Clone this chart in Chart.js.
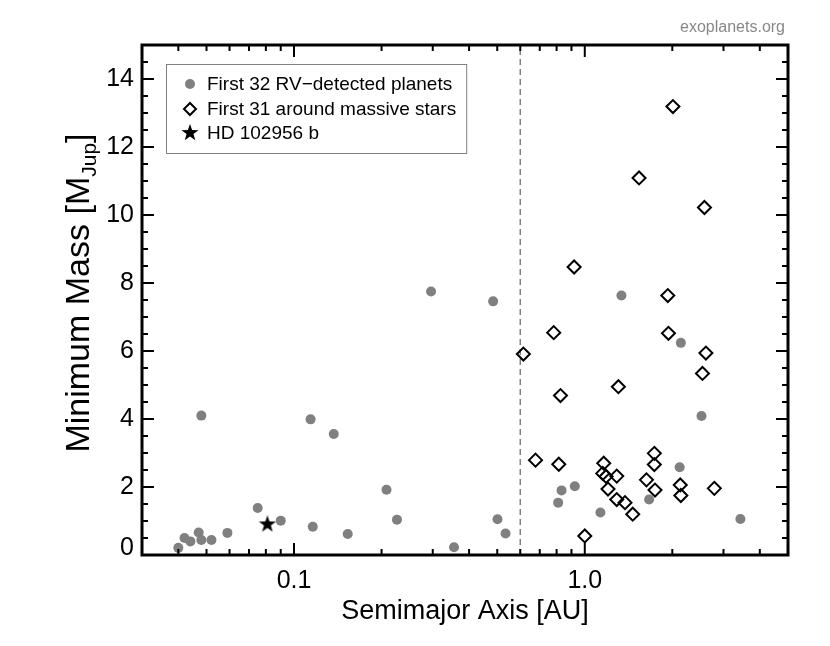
<!DOCTYPE html>
<html>
<head>
<meta charset="utf-8">
<script src="https://cdn.jsdelivr.net/npm/chart.js@4.4.0/dist/chart.umd.min.js"></script>
<style>
  html, body { margin: 0; padding: 0; background: #fff; }
  canvas { display: block; }
</style>
</head>
<body>
<canvas id="chart" width="830" height="646"></canvas>
<script>
// semimajor axis [AU] / minimum mass [M_Jup]
const rvAxis = [0.040, 0.042, 0.044, 0.047, 0.048, 0.048, 0.052, 0.059, 0.075, 0.090,
                0.114, 0.116, 0.137, 0.153, 0.208, 0.226, 0.296, 0.355, 0.484, 0.501,
                0.534, 0.832, 0.810, 0.924, 1.132, 1.664, 2.12, 2.14, 2.52, 3.43, 1.337];
const rvMass = [0.21, 0.50, 0.40, 0.66, 0.44, 4.10, 0.44, 0.65, 1.38, 1.01,
                3.99, 0.83, 3.56, 0.62, 1.92, 1.04, 7.75, 0.23, 7.46, 1.05,
                0.63, 1.90, 1.54, 2.02, 1.25, 1.63, 2.58, 6.24, 4.09, 1.06, 7.63];

const massiveAxis = [0.919, 0.782, 0.615, 0.825, 0.677, 0.814, 1.00, 2.01, 1.537, 2.58,
                     1.93, 1.94, 2.61, 2.54, 1.305, 1.735, 1.735, 1.162, 1.153, 1.184,
                     1.288, 1.63, 2.13, 2.14, 2.79, 1.202, 1.744, 1.288, 1.375, 1.462];
const massiveMass = [8.47, 6.54, 5.91, 4.69, 2.79, 2.67, 0.56, 13.19, 11.09, 10.22,
                     7.63, 6.52, 5.94, 5.34, 4.95, 2.99, 2.66, 2.70, 2.40, 2.31,
                     2.32, 2.21, 2.06, 1.75, 1.96, 1.94, 1.91, 1.63, 1.54, 1.20];

const hdAxis = [0.081];
const hdMass = [0.90];

const dividerAxis = 0.6;

const xMin = 0.03, xMax = 5;
const yMin = 0, yMax = 15;
const xMajorTicks = [0.1, 1];
const xMajorLabels = ['0.1', '1.0'];
const xMinorTicks = [0.04, 0.05, 0.06, 0.07, 0.08, 0.09, 0.2, 0.3, 0.4, 0.5, 0.6, 0.7, 0.8, 0.9, 2, 3, 4];
const yMajorTicks = [0, 2, 4, 6, 8, 10, 12, 14];
const yMinorTicks = [0.5, 1, 1.5, 2.5, 3, 3.5, 4.5, 5, 5.5, 6.5, 7, 7.5, 8.5, 9, 9.5,
                     10.5, 11, 11.5, 12.5, 13, 13.5, 14.5];

const legendLabels = ['First 32 RV\u2212detected planets', 'First 31 around massive stars', 'HD 102956 b'];

const FONT = '"Liberation Sans", Arial, Helvetica, sans-serif';
const GREY = '#808080';

function toPoints(xs, ys) {
    return xs.map((x, i) => ({ x: x, y: ys[i] }));
}

// filled five-point star used as a point image
function makeStar(size) {
    const c = document.createElement('canvas');
    c.width = size;
    c.height = size;
    const g = c.getContext('2d');
    g.fillStyle = '#000';
    g.beginPath();
    for (let i = 0; i < 10; i++) {
        const r = i % 2 ? size * 0.2 : size * 0.5;
        const a = -Math.PI / 2 + i * Math.PI / 5;
        g.lineTo(size / 2 + r * Math.cos(a), size / 2 + r * Math.sin(a));
    }
    g.closePath();
    g.fill();
    return c;
}
const starImg = makeStar(18);

// frame, inward ticks, labels, titles and the legend box
const framePlugin = {
    id: 'frame',
    afterDatasetsDraw(chart) {
        const ctx = chart.ctx;
        const a = chart.chartArea;
        const xs = chart.scales.x;
        const ys = chart.scales.y;
        ctx.save();

        ctx.strokeStyle = '#000';
        ctx.lineWidth = 2;
        const tick = (x1, y1, x2, y2) => {
            ctx.beginPath();
            ctx.moveTo(x1, y1);
            ctx.lineTo(x2, y2);
            ctx.stroke();
        };
        xMajorTicks.forEach(v => {
            const p = xs.getPixelForValue(v);
            tick(p, a.bottom, p, a.bottom - 12);
            tick(p, a.top, p, a.top + 12);
        });
        xMinorTicks.forEach(v => {
            const p = xs.getPixelForValue(v);
            tick(p, a.bottom, p, a.bottom - 6);
            tick(p, a.top, p, a.top + 6);
        });
        yMajorTicks.forEach(v => {
            const p = ys.getPixelForValue(v);
            tick(a.left, p, a.left + 12, p);
            tick(a.right, p, a.right - 12, p);
        });
        yMinorTicks.forEach(v => {
            const p = ys.getPixelForValue(v);
            tick(a.left, p, a.left + 6, p);
            tick(a.right, p, a.right - 6, p);
        });

        ctx.lineWidth = 3;
        ctx.strokeRect(a.left, a.top, a.right - a.left, a.bottom - a.top);

        // tick labels
        ctx.fillStyle = '#000';
        ctx.font = '25px ' + FONT;
        ctx.textAlign = 'center';
        ctx.textBaseline = 'alphabetic';
        xMajorTicks.forEach((v, i) => {
            ctx.fillText(xMajorLabels[i], xs.getPixelForValue(v), a.bottom + 33);
        });
        ctx.textAlign = 'right';
        ctx.textBaseline = 'middle';
        yMajorTicks.forEach(v => {
            const p = ys.getPixelForValue(v) - (v === 0 ? 7 : 0);
            ctx.fillText(String(v), a.left - 8, p);
        });

        // axis titles
        ctx.font = '27px ' + FONT;
        ctx.textAlign = 'center';
        ctx.textBaseline = 'alphabetic';
        ctx.fillText('Semimajor Axis [AU]', (a.left + a.right) / 2, a.bottom + 64);

        ctx.save();
        ctx.translate(89, 293);
        ctx.rotate(-Math.PI / 2);
        const main = 'Minimum Mass [M';
        const sub = 'Jup';
        ctx.font = '34px ' + FONT;
        const w1 = ctx.measureText(main).width;
        const w3 = ctx.measureText(']').width;
        ctx.font = '21px ' + FONT;
        const w2 = ctx.measureText(sub).width;
        let x0 = -(w1 + w2 + w3) / 2;
        ctx.textAlign = 'left';
        ctx.font = '34px ' + FONT;
        ctx.fillText(main, x0, 0);
        ctx.font = '21px ' + FONT;
        ctx.fillText(sub, x0 + w1, 7);
        ctx.font = '34px ' + FONT;
        ctx.fillText(']', x0 + w1 + w2, 0);
        ctx.restore();

        // watermark
        ctx.font = '16px ' + FONT;
        ctx.fillStyle = '#888';
        ctx.textAlign = 'right';
        ctx.fillText('exoplanets.org', 785, 32);

        // legend
        ctx.font = '19px ' + FONT;
        const textX = 207;
        const widest = Math.max(...legendLabels.map(t => ctx.measureText(t).width));
        const boxL = 166, boxT = 64, boxB = 153;
        ctx.fillStyle = '#fff';
        ctx.fillRect(boxL, boxT, textX + widest + 10 - boxL, boxB - boxT);
        ctx.strokeStyle = GREY;
        ctx.lineWidth = 1;
        ctx.strokeRect(boxL + 0.5, boxT + 0.5, textX + widest + 10 - boxL, boxB - boxT);

        const rows = [84, 109, 133];
        const mx = 190;
        ctx.fillStyle = GREY;
        ctx.beginPath();
        ctx.arc(mx, rows[0], 5, 0, Math.PI * 2);
        ctx.fill();
        ctx.strokeStyle = '#000';
        ctx.lineWidth = 2;
        ctx.beginPath();
        ctx.moveTo(mx, rows[1] - 6);
        ctx.lineTo(mx + 6, rows[1]);
        ctx.lineTo(mx, rows[1] + 6);
        ctx.lineTo(mx - 6, rows[1]);
        ctx.closePath();
        ctx.stroke();
        ctx.drawImage(starImg, mx - starImg.width / 2, rows[2] - starImg.height / 2);

        ctx.fillStyle = '#000';
        ctx.textAlign = 'left';
        ctx.textBaseline = 'middle';
        legendLabels.forEach((t, i) => ctx.fillText(t, textX, rows[i] + 1));

        ctx.restore();
    }
};

const ctx = document.getElementById('chart');
new Chart(ctx, {
    type: 'scatter',
    data: {
        datasets: [
            {
                label: legendLabels[2],
                data: toPoints(hdAxis, hdMass),
                pointStyle: starImg,
                order: 0
            },
            {
                label: legendLabels[1],
                data: toPoints(massiveAxis, massiveMass),
                pointStyle: 'rectRot',
                pointRadius: 6.5,
                borderWidth: 2,
                borderColor: '#000',
                backgroundColor: 'rgba(0,0,0,0)',
                order: 1
            },
            {
                label: legendLabels[0],
                data: toPoints(rvAxis, rvMass),
                pointStyle: 'circle',
                pointRadius: 5,
                borderWidth: 0,
                backgroundColor: GREY,
                order: 2
            },
            {
                type: 'line',
                label: 'divider',
                data: [{ x: dividerAxis, y: yMin }, { x: dividerAxis, y: yMax }],
                borderColor: GREY,
                borderWidth: 1.5,
                borderDash: [6, 4],
                pointRadius: 0,
                fill: false,
                order: 3
            }
        ]
    },
    options: {
        responsive: false,
        animation: false,
        layout: { padding: { top: 45, right: 42, left: 0, bottom: 0 } },
        plugins: { legend: { display: false }, tooltip: { enabled: false } },
        scales: {
            x: {
                type: 'logarithmic',
                min: xMin,
                max: xMax,
                grid: { display: false },
                border: { display: false },
                ticks: { display: false },
                afterFit: s => { s.height = 91; }
            },
            y: {
                type: 'linear',
                min: yMin,
                max: yMax,
                grid: { display: false },
                border: { display: false },
                ticks: { display: false },
                afterFit: s => { s.width = 142; }
            }
        }
    },
    plugins: [framePlugin]
});
</script>
</body>
</html>
